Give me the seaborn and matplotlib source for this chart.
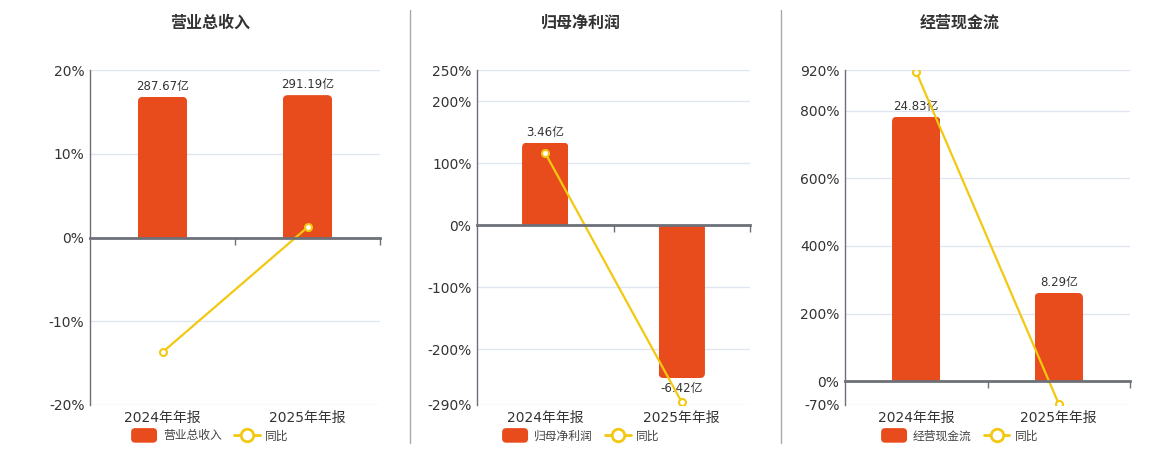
import matplotlib
matplotlib.use("Agg")
import matplotlib.pyplot as plt
from matplotlib.lines import Line2D
from matplotlib.patches import Patch, FancyBboxPatch
from matplotlib.legend_handler import HandlerPatch
import pandas as pd
import seaborn as sns

# --- data ---
periods = ["2024年年报", "2025年年报"]
titles = ["营业总收入", "归母净利润", "经营现金流"]

revenue = [287.67, 291.19]          # 亿
revenue_yoy = [-13.7, 1.22]         # %
profit = [3.46, -6.42]
profit_yoy = [116.0, -285.5]
cashflow = [24.83, 8.29]
cashflow_yoy = [914.0, -66.6]

revenue_ticks = [-20, -10, 0, 10, 20]
profit_ticks = [-290, -200, -100, 0, 100, 200, 250]
cashflow_ticks = [-70, 0, 200, 400, 600, 800, 920]

BAR = "#e84c1d"
LINE = "#f2c811"
AXIS = "#6e7079"
GRID = "#e0e6f1"
TEXT = "#333333"

FIG_W, FIG_H = 1160, 450
# plot boxes in pixels: left, top, right, bottom
boxes = [(90, 70, 380, 405), (477, 70, 750, 405), (845, 70, 1130, 405)]
centers = [210, 581, 960]
separators = [410, 781]

sns.set_theme(style="white")
plt.rcParams["font.family"] = ["DejaVu Sans", "Noto Sans CJK SC"]


class RoundSwatch(HandlerPatch):
    # legend swatch with rounded corners, a bit taller than the default
    def create_artists(self, legend, orig_handle, xdescent, ydescent,
                       width, height, fontsize, trans):
        p = FancyBboxPatch((-xdescent, -ydescent - 2), width, height + 4,
                           boxstyle="round,pad=0,rounding_size=3",
                           facecolor=BAR, edgecolor="none", transform=trans)
        return [p]


def round_tops(ax, w_px, h_px, radius_px=5):
    """swap seaborn's square bars for ones with rounded outer corners"""
    x0, x1 = ax.get_xlim()
    y0, y1 = ax.get_ylim()
    xu = (x1 - x0) / w_px
    yu = (y1 - y0) / h_px
    for rect in list(ax.patches):
        x, w, h = rect.get_x(), rect.get_width(), rect.get_height()
        lo, hi = min(0, h), max(0, h)
        if h >= 0:
            lo -= 2 * radius_px * yu
        else:
            hi += 2 * radius_px * yu
        fb = FancyBboxPatch((x, lo), w, hi - lo,
                            boxstyle=f"round,pad=0,rounding_size={radius_px * xu}",
                            mutation_aspect=yu / xu,
                            facecolor=BAR, edgecolor="none", zorder=2)
        ax.add_patch(fb)
        fb.set_clip_path(rect)
        rect.set_visible(False)


def draw_panel(fig, box, cx, title, values, yoy, ticks):
    left, top, right, bottom = box
    w_px, h_px = right - left, bottom - top
    rect = [left / FIG_W, 1 - bottom / FIG_H, w_px / FIG_W, h_px / FIG_H]
    lo, hi = min(ticks), max(ticks)

    df = pd.DataFrame({"period": periods, "value": values, "yoy": yoy})

    # base axis: percent scale, grid, labels
    ax = fig.add_axes(rect)
    ax.set_ylim(lo, hi)
    ax.set_yticks(ticks, labels=[f"{t}%" for t in ticks])
    ax.grid(axis="y", color=GRID, linewidth=1)
    ax.set_axisbelow(True)
    for s in ["top", "right", "bottom"]:
        ax.spines[s].set_visible(False)
    ax.spines["left"].set_color(AXIS)
    ax.spines["left"].set_linewidth(1)
    ax.tick_params(axis="y", length=0, labelsize=10, labelcolor=TEXT, pad=4)

    # bars on a hidden axis whose zero lines up with 0%
    ax_bar = ax.twinx()
    k = max(v / (0.85 * hi) if v > 0 else v / (0.85 * lo) for v in values)
    sns.barplot(data=df, x="period", y="value", color=BAR, saturation=1,
                width=0.34, ax=ax_bar)
    ax_bar.set_xlim(-0.5, 1.5)
    ax_bar.set_ylim(lo * k, hi * k)
    ax_bar.set_yticks([])
    ax_bar.set_ylabel("")
    for s in ax_bar.spines.values():
        s.set_visible(False)
    ax_bar.bar_label(ax_bar.containers[0], labels=[f"{v:.2f}亿" for v in values],
                     padding=3, fontsize=8.5, color=TEXT)
    round_tops(ax_bar, w_px, h_px)

    # yoy line on top
    ax_line = ax.twinx()
    sns.lineplot(data=df, x="period", y="yoy", ax=ax_line, color=LINE,
                 linewidth=1.6, marker="o", markersize=5, markerfacecolor="white",
                 markeredgecolor=LINE, markeredgewidth=1.5, sort=False)
    ax_line.set_ylim(lo, hi)
    ax_line.set_yticks([])
    ax_line.set_ylabel("")
    for s in ["top", "right", "left"]:
        ax_line.spines[s].set_visible(False)
    ax_line.xaxis.set_visible(True)
    ax_line.spines["bottom"].set_visible(True)
    ax_line.spines["bottom"].set_position(("data", 0))
    ax_line.spines["bottom"].set_color(AXIS)
    ax_line.spines["bottom"].set_linewidth(2)

    # shared x: category labels at the bottom, boundary ticks on the zero line
    ax.set_xlim(-0.5, 1.5)
    ax.set_xticks([0, 1], labels=periods)
    ax.set_xticks([0.5, 1.5], minor=True)
    ax.set_xlabel("")
    ax.tick_params(axis="x", which="both", length=0, labelsize=10,
                   labelcolor=TEXT, pad=4)
    ax_line.set_xlabel("")
    ax_line.tick_params(axis="x", which="major", length=0, labelbottom=False)
    ax_line.tick_params(axis="x", which="minor", bottom=True, length=5, width=1,
                        color=AXIS, direction="out")
    ax_bar.set_xlabel("")

    fig.text(cx / FIG_W, 1 - 23 / FIG_H, title, ha="center", va="center",
             fontsize=11.5, fontweight="bold", color=TEXT)

    handles = [Patch(facecolor=BAR, edgecolor="none"),
               Line2D([], [], color=LINE, linewidth=2, marker="o", markersize=9,
                      markerfacecolor="white", markeredgecolor=LINE,
                      markeredgewidth=2)]
    fig.legend(handles, [title, "同比"], loc="center",
               bbox_to_anchor=(cx / FIG_W, 1 - 436 / FIG_H), ncol=2,
               frameon=False, fontsize=8.5, labelcolor="#444444",
               handlelength=2.2, handleheight=0.8, handletextpad=0.5,
               columnspacing=1.0, borderaxespad=0, borderpad=0,
               handler_map={Patch: RoundSwatch()})


fig = plt.figure(figsize=(FIG_W / 100, FIG_H / 100), dpi=100)
fig.patch.set_facecolor("white")

draw_panel(fig, boxes[0], centers[0], titles[0], revenue, revenue_yoy, revenue_ticks)
draw_panel(fig, boxes[1], centers[1], titles[1], profit, profit_yoy, profit_ticks)
draw_panel(fig, boxes[2], centers[2], titles[2], cashflow, cashflow_yoy, cashflow_ticks)

for sx in separators:
    fig.add_artist(Line2D([sx / FIG_W] * 2, [1 - 443 / FIG_H, 1 - 10 / FIG_H],
                          transform=fig.transFigure, color="#aaaaaa", linewidth=1))

fig.savefig("out.png", dpi=100)
